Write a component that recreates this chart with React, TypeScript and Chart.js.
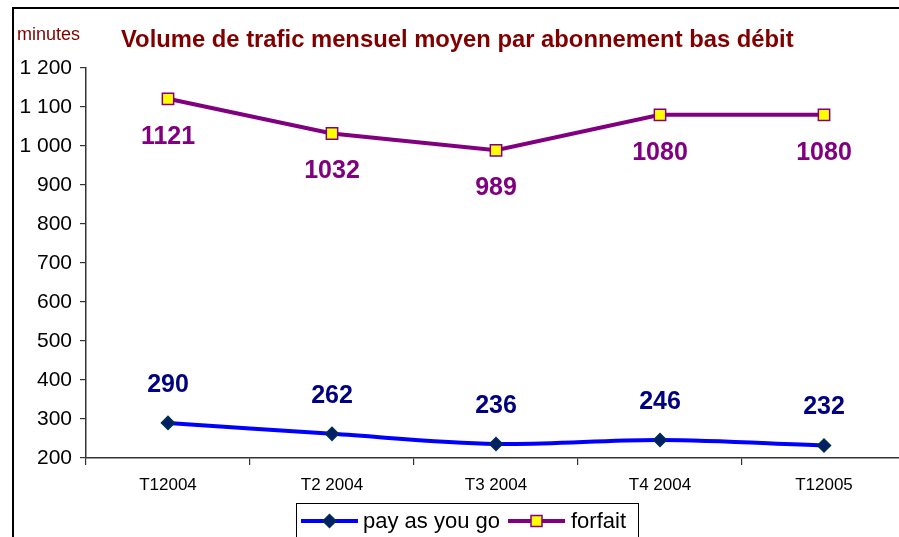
import React, { useEffect, useRef } from 'react';
import { Chart, registerables } from 'chart.js';

Chart.register(...registerables);

const FONT = "'Liberation Sans', Arial, Helvetica, sans-serif";

// ---- data ----
const categories = ['T12004', 'T2 2004', 'T3 2004', 'T4 2004', 'T12005'];
const payAsYouGo = [290, 262, 236, 246, 232];
const forfait = [1121, 1032, 989, 1080, 1080];
const seriesNames = ['pay as you go', 'forfait'];
const yMin = 200;
const yMax = 1200;
const yStep = 100;
const titleText = 'Volume de trafic mensuel moyen par abonnement bas débit';
const unitText = 'minutes';

const formatThousands = (v: number) => String(v).replace(/\B(?=(\d{3})+(?!\d))/g, ' ');

function drawDiamond(ctx: CanvasRenderingContext2D, x: number, y: number, r: number, fill: string, stroke: string) {
  ctx.beginPath();
  ctx.moveTo(x, y - r);
  ctx.lineTo(x + r, y);
  ctx.lineTo(x, y + r);
  ctx.lineTo(x - r, y);
  ctx.closePath();
  ctx.fillStyle = fill;
  ctx.fill();
  ctx.lineWidth = 1.5;
  ctx.strokeStyle = stroke;
  ctx.stroke();
}

function drawSquare(ctx: CanvasRenderingContext2D, x: number, y: number, half: number, fill: string, stroke: string) {
  ctx.beginPath();
  ctx.rect(x - half, y - half, half * 2, half * 2);
  ctx.fillStyle = fill;
  ctx.fill();
  ctx.lineWidth = 1.5;
  ctx.strokeStyle = stroke;
  ctx.stroke();
}

export default function App() {
  const ref = useRef<HTMLCanvasElement>(null);

  useEffect(() => {
    const canvas = ref.current;
    if (!canvas) return;

    const overlay = {
      id: 'overlay',
      afterDatasetsDraw(chart: any) {
        const ctx: CanvasRenderingContext2D = chart.ctx;
        const offsets = [-38, 38];
        const colors = ['#000080', '#800080'];
        ctx.save();
        ctx.font = `bold 25px ${FONT}`;
        ctx.textAlign = 'center';
        ctx.textBaseline = 'middle';
        chart.data.datasets.forEach((ds: any, i: number) => {
          const meta = chart.getDatasetMeta(i);
          meta.data.forEach((pt: any, j: number) => {
            ctx.fillStyle = colors[i];
            ctx.fillText(String(ds.data[j]), pt.x, pt.y + offsets[i]);
          });
        });
        ctx.restore();
      },
      afterDraw(chart: any) {
        const ctx: CanvasRenderingContext2D = chart.ctx;
        ctx.save();
        // title
        ctx.fillStyle = '#800000';
        ctx.textAlign = 'left';
        ctx.textBaseline = 'alphabetic';
        ctx.font = `bold 23.8px ${FONT}`;
        ctx.fillText(titleText, 121, 47);
        // unit
        ctx.font = `18px ${FONT}`;
        ctx.fillText(unitText, 17, 40);

        // legend
        ctx.lineWidth = 1;
        ctx.strokeStyle = '#000';
        ctx.fillStyle = '#fff';
        ctx.fillRect(296, 503, 342, 50);
        ctx.strokeRect(296.5, 503.5, 342, 50);

        const ds0 = chart.data.datasets[0];
        const ds1 = chart.data.datasets[1];
        const ly = 521;
        ctx.lineWidth = 4;
        ctx.strokeStyle = ds0.borderColor;
        ctx.beginPath();
        ctx.moveTo(301, ly);
        ctx.lineTo(358, ly);
        ctx.stroke();
        drawDiamond(ctx, 329.5, ly, 6.5, ds0.pointBackgroundColor, ds0.pointBorderColor);

        ctx.lineWidth = 4;
        ctx.strokeStyle = ds1.borderColor;
        ctx.beginPath();
        ctx.moveTo(508, ly);
        ctx.lineTo(565, ly);
        ctx.stroke();
        drawSquare(ctx, 536.5, ly, 5.5, ds1.pointBackgroundColor, ds1.pointBorderColor);

        ctx.fillStyle = '#000';
        ctx.font = `22px ${FONT}`;
        ctx.textBaseline = 'alphabetic';
        ctx.fillText(ds0.label, 363, 528);
        ctx.fillText(ds1.label, 571, 528);
        ctx.restore();
      },
    };

    const chart = new Chart(canvas, {
      type: 'line',
      data: {
        labels: categories,
        datasets: [
          {
            label: seriesNames[0],
            data: payAsYouGo,
            borderColor: '#0000FF',
            backgroundColor: '#0000FF',
            borderWidth: 4,
            tension: 0.35,
            pointStyle: 'rectRot',
            pointRadius: 6.5,
            pointBackgroundColor: '#001F66',
            pointBorderColor: '#003050',
            pointBorderWidth: 1.5,
          },
          {
            label: seriesNames[1],
            data: forfait,
            borderColor: '#800080',
            backgroundColor: '#800080',
            borderWidth: 4,
            tension: 0,
            pointStyle: 'rect',
            pointRadius: 8,
            pointBackgroundColor: '#FFFF00',
            pointBorderColor: '#800080',
            pointBorderWidth: 1.5,
          },
        ],
      },
      options: {
        responsive: false,
        maintainAspectRatio: false,
        animation: false,
        devicePixelRatio: 1,
        layout: { padding: { top: 68, right: 14, bottom: 0, left: 0 } },
        plugins: {
          legend: { display: false },
          title: { display: false },
          tooltip: { enabled: false },
        },
        scales: {
          x: {
            offset: true,
            grid: {
              offset: true,
              drawOnChartArea: false,
              drawTicks: true,
              tickLength: 7,
              color: '#333',
              lineWidth: 1.2,
            },
            border: { display: true, color: '#333', width: 1.5 },
            ticks: {
              color: '#000',
              font: { family: FONT, size: 17 },
              padding: 10,
              maxRotation: 0,
              autoSkip: false,
            },
            afterFit: (s: any) => {
              s.height = 537 - 458;
            },
          },
          y: {
            min: yMin,
            max: yMax,
            grid: {
              drawOnChartArea: false,
              drawTicks: true,
              tickLength: 6,
              color: '#333',
              lineWidth: 1.2,
            },
            border: { display: true, color: '#333', width: 1.5 },
            ticks: {
              stepSize: yStep,
              color: '#000',
              font: { family: FONT, size: 21 },
              padding: 8,
              callback: (v: any) => formatThousands(Number(v)),
            },
            afterFit: (s: any) => {
              s.width = 86;
            },
          },
        },
      },
      plugins: [overlay],
    });

    return () => chart.destroy();
  }, []);

  return (
    <div
      style={{
        position: 'absolute',
        left: 0,
        top: 0,
        width: 899,
        height: 537,
        overflow: 'hidden',
        background: '#fff',
      }}
    >
      <canvas
        ref={ref}
        width={920}
        height={537}
        style={{ position: 'absolute', left: 0, top: 0, width: 920, height: 537 }}
      />
      <div
        style={{
          position: 'absolute',
          left: 12,
          top: 7,
          width: 920,
          height: 600,
          borderTop: '2px solid #000',
          borderLeft: '2px solid #000',
          pointerEvents: 'none',
        }}
      />
    </div>
  );
}
